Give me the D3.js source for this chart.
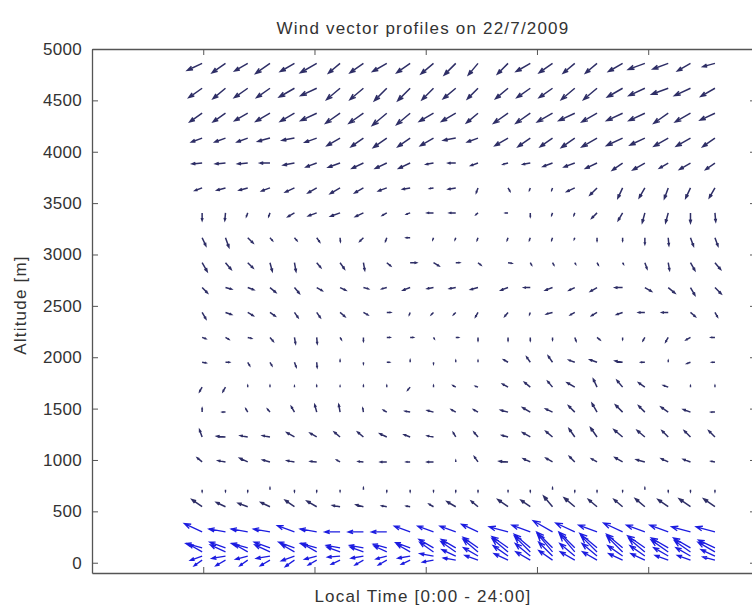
<!DOCTYPE html>
<html>
<head>
<meta charset="utf-8">
<script src="https://cdn.jsdelivr.net/npm/d3@7"></script>
<style>
  body { margin: 0; background: #fff; overflow: hidden; }
  text { font-family: "Liberation Sans", Arial, sans-serif; fill: #333; }
</style>
</head>
<body>
<svg id="chart" width="752" height="607"></svg>
<script>
// measurement times (hours on the plot axis)
var hours = [4.95, 6.0, 7.0, 8.0, 9.1, 10.1, 11.15, 12.2, 13.25, 14.3, 15.35,
             16.35, 17.35, 18.7, 19.7, 20.7, 21.7, 22.7, 23.85, 24.85, 25.9, 26.9, 28.0];

// upper profiles (dark arrows), top to bottom
var lidarAltitudes = [4860, 4618, 4375, 4133, 3890, 3648, 3405, 3163, 2920, 2678,
                      2436, 2193, 1951, 1709, 1466, 1224, 981, 710, 545];

// direction the arrow points to, degrees clockwise from north
var lidarHeading = [
  [245,235,240,235,240,240,230,235,240,235,230, 225,220,225,240,235,230,230,240,250,250,240,255],
  [235,230,235,235,240,245,230,230,225,225,225, 230,225,230,235,235,230,230,240,245,250,245,240],
  [235,235,240,240,240,245,235,235,230,230,240, 240,230,235,235,240,245,240,245,245,235,240,245],
  [250,250,250,255,260,250,240,235,235,235,240, 260,250,240,235,235,235,240,245,245,240,240,235],
  [265,265,265,270,260,250,250,245,245,245,260, 270,250,255,260,250,250,245,235,240,240,240,235],
  [250,255,255,250,245,240,240,240,250,260,260, 260,200,150,200,200,245,225,205,210,200,205,210],
  [180,185,200,200,240,250,250,245,240,250,270, 270,230,270,180,200,200,225,210,195,195,180,175],
  [155,160,135,140,140,145,175,225,200,270,200, 200,200,200,200,200,200,180,180,180,175,160,160],
  [150,140,135,165,170,140,145,170,130,90,120, 90,130,100,150,150,150,150,150,160,170,150,140],
  [135,105,110,130,140,120,115,105,255,250,260, 260,255,250,270,250,245,240,270,120,130,150,135],
  [150,110,120,125,145,145,130,120,90,200,225, 225,210,220,200,255,240,240,250,270,270,130,150],
  [110,120,105,140,170,175,150,180,90,90,150, 90,180,180,180,180,160,130,180,210,210,240,270],
  [100,90,150,150,160,175,0,180,90,0,180, 0,0,300,325,325,290,290,280,270,0,250,270],
  [210,210,0,0,0,0,0,0,0,220,0, 300,290,300,310,320,300,335,320,305,290,0,0],
  [0,270,330,320,330,345,350,350,300,280,285, 300,300,285,300,295,315,330,315,315,305,290,270],
  [340,275,280,280,300,300,310,310,295,290,280, 330,320,285,300,310,325,325,310,310,315,315,315],
  [310,280,295,285,280,275,300,275,270,270,270, 0,325,275,295,300,315,300,300,285,295,290,280],
  [180,180,180,0,180,180,180,0,180,180,180, 180,180,180,180,0,180,180,180,0,180,180,180],
  [305,295,290,295,305,300,280,285,280,280,300, 300,310,305,305,320,310,310,310,310,305,305,305]
];

// wind speed [m/s]
var lidarSpeed = [
  [6.5,6.5,6,7,6.5,7.5,6,6.5,6.5,6.5,6.5, 6.5,6,6,6.5,6.5,6,6,6.5,7,6.5,6,5],
  [6.5,6.5,6.5,6.5,7,7,7,7,7,7,6.5, 6.5,6,6.5,6.5,6.5,7,7,7,7,7,7,6.5],
  [6,6,6,6.5,6.5,7,7,7,7.5,7,6.5, 6.5,6,7,7,7,7,7,7,7,7,7,6.5],
  [4.5,4.5,4.5,5,5,5,6,6,6.5,6,6, 5,4.5,6,6,6,6.5,7,7,6.5,6.5,6.5,6],
  [4,4,4,4,4.5,4.5,5,5,5,5,3, 3,3,2,3,4,4.5,5,5,5.5,4,5,4.5],
  [3,3.5,3.5,3.5,4,4,4.5,4,3.5,3,1.5, 3,2,1.5,1,1,3.5,4,4.5,4.5,4.5,4.5,4.5],
  [3,3,1.5,1.5,3,3.5,4,3.5,2,1.5,2.5, 2.5,1,1,1.5,1,1,3,3.5,4,4,4,3.5],
  [3.5,4,3,1.5,1.5,2,1.5,2,1.5,1.5,0.8, 0.8,1,1,1,1,0.6,1.2,1.2,2.5,3,3.5,3.5],
  [4,3.5,3,3.5,3.5,2.5,3,3,2,2.5,2.5, 1.5,1.5,1.5,1,1,0.6,1,0.6,2.5,3,3.5,3.5],
  [3,2.5,2.5,3,3,2.5,2.5,2,2,3,2.5, 2.5,3,3,2.5,3,2.5,3,3,3,3.5,3.5,3.5],
  [3,2.5,2.5,2.5,2.5,2.5,2.5,2,1.5,1,1.2, 1.2,2,2,0.8,2.5,2,2.5,2.5,2.5,2.5,2.5,2],
  [1.5,1.5,1.5,2,2.5,2.5,1,1.5,1.2,1.2,0.6, 1,1.3,1.3,1.3,1,1.5,1.5,0.8,1.5,2,2,1.5],
  [1.5,1.5,1.5,1.5,2,2,0.8,0.6,1,0.8,0.6, 0.6,0.6,2,2.5,3,2.5,3,3,1.5,0.6,1.5,1.2],
  [2,2,0.6,0.6,0.4,0.6,0.4,0.6,0.6,1.5,0.6, 1.2,1,2.5,3,3,3.5,3.5,3.5,3,2,0.5,0.6],
  [1.5,1.2,1.5,1.5,2.5,3,3,1.5,1.5,2,2.5, 2,2,3,3.5,3,3.5,4,4,3.5,3.5,3,1.5],
  [3,3.5,3,3,3.5,3,3,3,3,2.5,2.5, 2,2.5,2.5,3.5,3.5,4,4.5,4.5,4,3.5,3.5,3.5],
  [2.5,3,3.5,3,3,2.5,1.5,2,2.5,1.5,2.5, 0.5,2.5,3.5,3,3,3,2.5,3.5,3.5,3,3,1.5],
  [0.7,0.6,0.7,0.7,0.7,0.7,0.6,0.7,0.7,0.7,0.6, 0.7,0.7,0.6,0.7,0.7,0.7,0.7,0.6,0.7,0.7,0.7,0.7],
  [5,4,4,4,4.5,4.5,3,3,2,1.5,2, 4,3.5,5,4.5,5.5,5.5,4.5,4.5,5,5,5.5,5.5]
];

// near-ground profiles (blue arrows)
var sodarAltitudes = [300, 145, 105, 65, 25];

var sodarHeading = [
  [295,280,280,280,290,280,270,270,270,290,290, 290,295,285,290,300,295,290,295,290,290,285,285],
  [285,290,285,290,290,285,280,280,285,290,300, 300,305,305,310,315,315,310,310,305,300,300,295],
  [300,295,300,295,300,300,290,290,295,300,305, 305,310,310,315,320,320,315,315,310,305,305,300],
  [250,260,255,260,250,255,265,260,255,260,280, 295,300,305,310,315,310,310,305,305,300,300,295],
  [235,240,235,240,235,240,245,240,240,245,260, 280,290,295,300,305,300,300,295,295,290,290,285]
];

var sodarSpeed = [
  [7,6,6,6,6.5,6,5.5,5.5,5.5,6,6, 6,6.5,7,7,8,7.5,7,7.5,7,7,7,7],
  [6,6,6,6,6,6,5,5,5,5.5,6, 6,6.5,7,7.5,8,8,8,7.5,7.5,7,7,6.5],
  [5.5,6,5.5,6,5.5,6,5,5,5,5.5,6, 6.5,7,7.5,8,8.5,8.5,8,8,7.5,7.5,7,7],
  [4.5,5,4.5,5,5,4.5,4.5,4.5,4,4.5,5, 5.5,6,6.5,7,7,7,7,6.5,6.5,6,6,5.5],
  [3.5,4,3.5,4,4,3.5,3.5,3.5,3.5,3.5,4, 4.5,5,5.5,6,6,6,6,5.5,5.5,5,5,4.5]
];

var altitudeTicks = [0, 500, 1000, 1500, 2000, 2500, 3000, 3500, 4000, 4500, 5000];
var timeTicks = [5, 10, 15, 20, 25];

var svg = d3.select("#chart");
svg.append("rect").attr("width", 752).attr("height", 607).attr("fill", "#fff");

var x = d3.scaleLinear().domain([0, 29.8]).range([92, 755]);
var y = d3.scaleLinear().domain([-100, 5000]).range([573, 49]);

// quiver-style arrow: shaft plus two head strokes
function arrowPath(d, k) {
  var x0 = x(d.t), y0 = y(d.alt);
  var a = d.h * Math.PI / 180;
  var dx = d.s * k * Math.sin(a), dy = -d.s * k * Math.cos(a);
  var x1 = x0 + dx, y1 = y0 + dy;
  var al = 0.33, be = 0.36;
  var p = d3.path();
  p.moveTo(x0, y0);
  p.lineTo(x1, y1);
  p.moveTo(x1 - al * (dx + be * dy), y1 - al * (dy - be * dx));
  p.lineTo(x1, y1);
  p.lineTo(x1 - al * (dx - be * dy), y1 - al * (dy + be * dx));
  return p.toString();
}

function flatten(alts, heads, speeds) {
  var out = [];
  alts.forEach(function(alt, i) {
    hours.forEach(function(t, j) {
      out.push({t: t, alt: alt, h: heads[i][j], s: speeds[i][j]});
    });
  });
  return out;
}

var plot = svg.append("g");

plot.selectAll("path.sodar")
    .data(flatten(sodarAltitudes, sodarHeading, sodarSpeed))
    .enter().append("path")
    .attr("class", "sodar")
    .attr("d", function(d) { return arrowPath(d, 2.8); })
    .attr("fill", "none")
    .attr("stroke", "#1c1ce0")
    .attr("stroke-width", 1.3);

plot.selectAll("path.lidar")
    .data(flatten(lidarAltitudes, lidarHeading, lidarSpeed))
    .enter().append("path")
    .attr("class", "lidar")
    .attr("d", function(d) { return arrowPath(d, 2.5); })
    .attr("fill", "none")
    .attr("stroke", "#2e2e66")
    .attr("stroke-width", 1.5);

// axes box, ticks pointing inwards
function styleAxis(g) {
  g.selectAll("path.domain").attr("stroke", "#555").attr("stroke-width", 1.3);
  g.selectAll(".tick line").attr("stroke", "#555").attr("stroke-width", 1);
  g.selectAll(".tick text").style("font-size", "17px").attr("fill", "#333")
    .style("letter-spacing", "0.3px")
    .style("font-family", "'Liberation Sans', Arial, sans-serif");
}

svg.append("g").attr("transform", "translate(92,0)")
  .call(d3.axisLeft(y).tickValues(altitudeTicks).tickFormat(d3.format("d"))
    .tickSizeInner(-6).tickSizeOuter(0).tickPadding(10))
  .call(styleAxis);

svg.append("g").attr("transform", "translate(756,0)")
  .call(d3.axisRight(y).tickValues(altitudeTicks).tickSizeInner(-6).tickSizeOuter(0).tickFormat(""))
  .call(styleAxis);

svg.append("g").attr("transform", "translate(0,573)")
  .call(d3.axisBottom(x).tickValues(timeTicks).tickSizeInner(-6).tickSizeOuter(0).tickFormat(""))
  .call(styleAxis);

svg.append("g").attr("transform", "translate(0,49)")
  .call(d3.axisTop(x).tickValues(timeTicks).tickSizeInner(-6).tickSizeOuter(0).tickFormat(""))
  .call(styleAxis);

svg.append("text")
    .attr("x", 423).attr("y", 34)
    .attr("text-anchor", "middle")
    .style("font-size", "17px")
    .style("letter-spacing", "1.2px")
    .text("Wind vector profiles on 22/7/2009");

svg.append("text")
    .attr("x", 423).attr("y", 602)
    .attr("text-anchor", "middle")
    .style("font-size", "17px")
    .style("letter-spacing", "1.2px")
    .text("Local Time [0:00 - 24:00]");

svg.append("text")
    .attr("transform", "translate(26,305) rotate(-90)")
    .attr("text-anchor", "middle")
    .style("font-size", "17px")
    .style("letter-spacing", "1.2px")
    .text("Altitude [m]");
</script>
</body>
</html>
